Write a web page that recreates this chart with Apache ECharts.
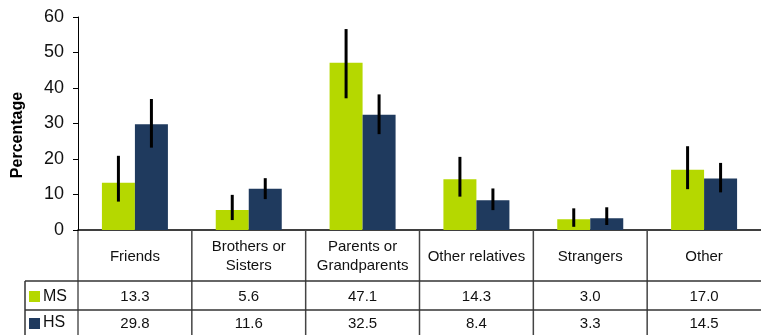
<!DOCTYPE html>
<html><head><meta charset="utf-8">
<script src="https://cdn.jsdelivr.net/npm/echarts@6/dist/echarts.min.js"></script>
<style>html,body{margin:0;padding:0;background:#fff}#c{width:761px;height:335px}</style>
</head><body><div id="c"></div>
<script>
var categories = ['Friends', 'Brothers or\nSisters', 'Parents or\nGrandparents', 'Other relatives', 'Strangers', 'Other'];
var seriesNames = ['MS', 'HS'];
var msValues = [13.3, 5.6, 47.1, 14.3, 3.0, 17.0];
var hsValues = [29.8, 11.6, 32.5, 8.4, 3.3, 14.5];
var msErrLow = [8.0, 2.8, 37.1, 9.4, 0.9, 11.5];
var msErrHigh = [20.9, 9.9, 56.6, 20.6, 6.1, 23.6];
var hsErrLow = [23.2, 8.7, 27.0, 5.6, 1.4, 10.6];
var hsErrHigh = [36.9, 14.6, 38.2, 11.7, 6.4, 18.9];
var msLabels = ['13.3', '5.6', '47.1', '14.3', '3.0', '17.0'];
var hsLabels = ['29.8', '11.6', '32.5', '8.4', '3.3', '14.5'];
var yTicks = [0, 10, 20, 30, 40, 50, 60];

var colors = ['#b5d800', '#1f3a5e'];
var FONT = "'Liberation Sans', Arial, sans-serif";
var chart = echarts.init(document.getElementById('c'), null, {renderer: 'canvas'});

function errSeries(idx, low, high) {
  var data = low.map(function (l, i) { return [i, l, high[i]]; });
  return {
    type: 'custom', z: 10,
    renderItem: function (params, api) {
      var i = api.value(0);
      var p1 = api.coord([i, api.value(1)]);
      var p2 = api.coord([i, api.value(2)]);
      var off = (idx === 0 ? -1 : 1) * 16.5;
      return {type: 'line', shape: {x1: p1[0] + off, y1: p1[1], x2: p2[0] + off, y2: p2[1]},
        style: {stroke: '#000', lineWidth: 3}};
    },
    data: data, encode: {x: 0, y: [1, 2]}
  };
}

var option = {
  animation: false,
  grid: [
    {left: 78, top: 17, width: 693, height: 213},
    {left: 78, top: 40, width: 693, height: 190, show: false}
  ],
  xAxis: [{
    type: 'category', data: categories, gridIndex: 0,
    axisLine: {lineStyle: {color: '#000', width: 1.5}},
    axisTick: {show: false}, axisLabel: {show: false}
  }, {
    type: 'category', data: categories, gridIndex: 1, show: false
  }],
  yAxis: [{
    type: 'value', min: yTicks[0], max: yTicks[yTicks.length - 1], interval: 10, gridIndex: 0,
    axisLine: {show: true, lineStyle: {color: '#000', width: 1}},
    axisTick: {show: true, length: 5, lineStyle: {color: '#000'}},
    splitLine: {show: false},
    axisLabel: {fontFamily: FONT, fontSize: 18, color: '#111', margin: 14}
  }, {
    type: 'value', gridIndex: 1, min: 0, max: 1,
    name: 'Percentage', nameLocation: 'middle', nameGap: 52,
    nameTextStyle: {fontFamily: FONT, fontSize: 16, fontWeight: 'bold', color: '#000'},
    axisLine: {show: false}, axisTick: {show: false}, axisLabel: {show: false}, splitLine: {show: false}
  }],
  series: [
    {name: seriesNames[0], type: 'bar', data: msValues, barWidth: 33, barGap: '0%', itemStyle: {color: colors[0]}},
    {name: seriesNames[1], type: 'bar', data: hsValues, barWidth: 33, barGap: '0%', itemStyle: {color: colors[1]}},
    errSeries(0, msErrLow, msErrHigh),
    errSeries(1, hsErrLow, hsErrHigh)
  ]
};
chart.setOption(option);

// table drawn from axis positions
var g = [];
var yAxisTop = 230, hdrBottom = 281, row1Bottom = 310, tableBottom = 340;
var c0 = chart.convertToPixel({xAxisIndex: 0}, 0);
var c1 = chart.convertToPixel({xAxisIndex: 0}, 1);
var band = c1 - c0;
var lineCol = '#444';
function line(x1, y1, x2, y2, col, w) {
  g.push({type: 'line', shape: {x1: x1, y1: y1, x2: x2, y2: y2}, style: {stroke: col || lineCol, lineWidth: w || 1.5}, z: 5});
}
function text(x, y, s, size, extra) {
  var st = {text: s, x: x, y: y, fill: '#111', font: (size || 15) + 'px ' + FONT, align: 'center', verticalAlign: 'middle', lineHeight: 19};
  for (var k in extra) st[k] = extra[k];
  g.push({type: 'text', style: st, z: 6});
}
for (var i = 0; i < categories.length; i++) {
  var cx = chart.convertToPixel({xAxisIndex: 0}, i);
  var bx = cx - band / 2;
  line(bx, yAxisTop, bx, tableBottom, i === 0 ? '#000' : lineCol, i === 0 ? 1 : 1.5);
  text(cx, (yAxisTop + hdrBottom) / 2 + 1, categories[i], 15);
  text(cx, (hdrBottom + row1Bottom) / 2 + 1, msLabels[i], 15);
  text(cx, (row1Bottom + tableBottom - 5) / 2 + 1, hsLabels[i], 15);
}
line(25, hdrBottom, 761, hdrBottom, '#333');
line(25, row1Bottom, 761, row1Bottom, '#333');
line(25, hdrBottom, 25, tableBottom, '#333');
g.push({type: 'rect', shape: {x: 29, y: 291, width: 11, height: 11}, style: {fill: colors[0]}, z: 6});
g.push({type: 'rect', shape: {x: 29, y: 318, width: 11, height: 11}, style: {fill: colors[1]}, z: 6});
text(43, 296.5, seriesNames[0], 16, {align: 'left'});
text(43, 323, seriesNames[1], 16, {align: 'left'});
chart.setOption({graphic: g});
</script>
</body></html>
